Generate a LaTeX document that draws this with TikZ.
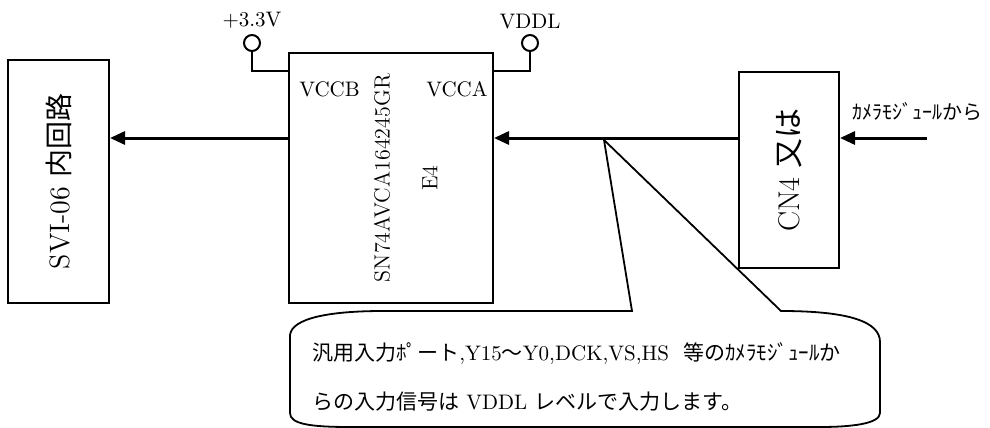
\documentclass[tikz,border=0pt]{standalone}
\usepackage{fontspec}
\usepackage{tikz}
\usetikzlibrary{shapes,arrows.meta,positioning}
\newfontfamily\jpfont{Noto Sans CJK JP}
\tikzstyle{block} = [rectangle, draw=black, line width=1pt, fill=none, text centered, inner sep=0pt]
\tikzstyle{terminal} = [circle, draw=black, line width=1pt, fill=white, minimum size=8pt, inner sep=0pt]
\tikzstyle{textonly} = [draw=none, fill=none, text centered, inner sep=0pt]
\tikzstyle{wire} = [draw, line width=1pt]
\tikzstyle{sig} = [draw, line width=1.5pt, -{Triangle[length=7.5pt,width=6.5pt]}]
\tikzstyle{callout} = [draw, line width=0.9pt, line join=miter]

\begin{document}
\begin{tikzpicture}[x=0.5pt, y=-0.5pt, font=\fontsize{10.5}{12.6}\selectfont]
\useasboundingbox (0,0) rectangle (990,428);

% blocks =============================

\node[block, minimum width=50.5pt, minimum height=121.5pt, font=\fontsize{14}{16}\selectfont] (svi) at (58.5,181.5) {\rotatebox{90}{SVI-06 {\jpfont 内回路}}};
\node[block, minimum width=102pt, minimum height=125pt] (chip) at (391,178) {};
\node[block, minimum width=50pt, minimum height=98pt, font=\fontsize{15}{18}\selectfont] (cn4) at (789,170) {\rotatebox{90}{CN4 {\jpfont 又は}}};

% chip labels
\node[textonly, below right=14.5pt and 5.5pt of chip.north west] (vccb) {VCCB};
\node[textonly, below left=14.5pt and 3pt of chip.north east] (vcca) {VCCA};
\node[textonly, font=\fontsize{11}{13}\selectfont] (part) at ([xshift=-4.5pt]chip.center) {\rotatebox{90}{SN74AVCA164245GR}};
\node[textonly, font=\fontsize{11}{13}\selectfont] (ref) at ([xshift=19.5pt]chip.center) {\rotatebox{90}{E4}};

% power terminals
\node[terminal] (p33) at (252,43) {};
\node[textonly, above=2.5pt of p33] (p33lbl) {+3.3V};
\node[terminal] (vddl) at (530,43) {};
\node[textonly, above=2.5pt of vddl] (vddllbl) {VDDL};

\coordinate (pwr) at (0,71);
\path[wire] (p33.south) |- (chip.west |- pwr);
\path[wire] (vddl.south) |- (chip.east |- pwr);

% signal path
\coordinate (camin) at (927,138);
\node[textonly, font=\jpfont\fontsize{10}{12}\selectfont] (camlbl) at (917,112) {ｶﾒﾗﾓｼﾞｭｰﾙから};

\path[sig] (camin) -- (cn4.east |- camin);
\path[sig] (cn4.west |- camin) -- (chip.east |- camin);
\path[sig] (chip.west |- camin) -- (svi.east |- camin);

% callout
\coordinate (tip) at (604,140);
\draw[callout] (290,335) .. controls (292,318) and (330,311) .. (383,311) -- (632,311) -- (tip) -- (781,311)
  .. controls (850,311) and (880,322) .. (880,342) -- (880,413)
  .. controls (880,424) and (850,427) .. (820,427) -- (350,427)
  .. controls (310,427) and (290,424) .. (290,413) -- cycle;

\node[textonly, anchor=west, align=left] (note) at (312,377) {{\jpfont 汎用入力ﾎﾟート},Y15{\jpfont ～}Y0,DCK,VS,HS\ \ {\jpfont 等のｶﾒﾗﾓｼﾞｭｰﾙか}\\[12pt]{\jpfont らの入力信号は} VDDL {\jpfont レベルで入力します。}};

\end{tikzpicture}
\end{document}
